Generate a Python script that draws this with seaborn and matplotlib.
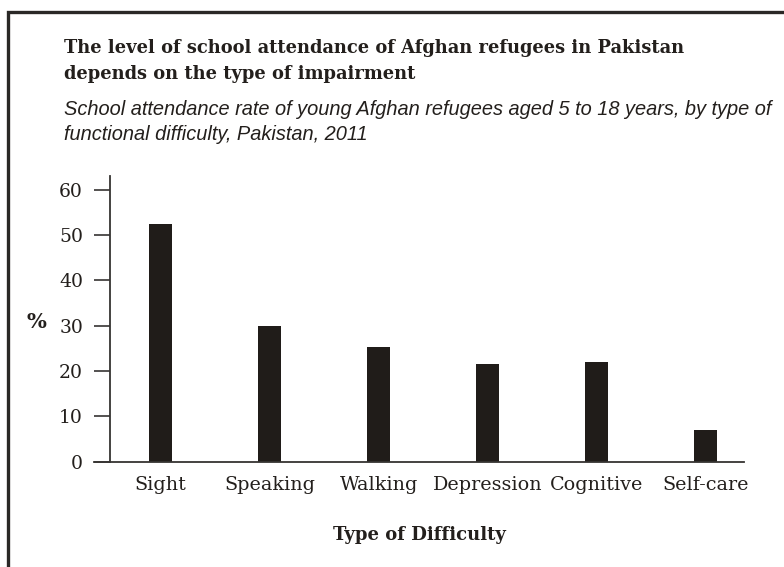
import pandas as pd
import matplotlib.pyplot as plt
import seaborn as sns
from matplotlib.patches import Rectangle

# data
difficulty = ["Sight", "Speaking", "Walking", "Depression", "Cognitive", "Self-care"]
attendance = [52.5, 30.0, 25.2, 21.6, 22.0, 7.0]
y_ticks = [0, 10, 20, 30, 40, 50, 60]

df = pd.DataFrame({"difficulty": difficulty, "attendance": attendance})

sns.set_theme(style="white")
plt.rcParams["font.family"] = ["DejaVu Serif", "Liberation Serif"]

ink = "#201c19"
axis_col = "#363432"
txt = "#231f1c"

fig = plt.figure(figsize=(7.84, 5.67), dpi=100)
ax = fig.add_axes([0.12, 0.1857, 0.829, 0.504])

sns.barplot(data=df, x="difficulty", y="attendance", color=ink, width=0.21,
            saturation=1, linewidth=0, ax=ax)

ax.set_xlim(-0.61, 5.35)
ax.set_ylim(0, 63)
ax.set_yticks(y_ticks)

# axis styling
for side in ["top", "right"]:
    ax.spines[side].set_visible(False)
ax.spines["left"].set_position(("data", -0.463))
for side in ["left", "bottom"]:
    ax.spines[side].set_color(axis_col)
    ax.spines[side].set_linewidth(1.3)

ax.tick_params(axis="y", direction="out", length=11.5, width=1.2, color=axis_col,
               pad=8, labelsize=13.5, labelcolor=txt, left=True)
ax.tick_params(axis="x", length=0, pad=10, labelsize=13.8, labelcolor=txt)

ax.set_xlabel("Type of Difficulty", fontsize=13, fontweight="bold", labelpad=23,
              color=txt)
ax.set_ylabel("")
fig.text(0.046, 0.432, "%", fontsize=15, fontweight="bold", color=txt,
         ha="center", va="center")

# title block, one text per line
title_lines = ["The level of school attendance of Afghan refugees in Pakistan",
               "depends on the type of impairment"]
for line, base in zip(title_lines, [53, 79]):
    fig.text(0.0816, 1 - base / 567, line, fontsize=12.9, fontweight="bold",
             color=txt, ha="left", va="baseline")

subtitle_lines = ["School attendance rate of young Afghan refugees aged 5 to 18 years, by type of",
                  "functional difficulty, Pakistan, 2011"]
for line, base in zip(subtitle_lines, [115, 140]):
    fig.text(0.0816, 1 - base / 567, line, fontsize=14.4, fontstyle="italic",
             family=["Liberation Sans", "DejaVu Sans"], color=txt,
             ha="left", va="baseline")

# frame round the figure
fig.patches.append(Rectangle((0.0108, -0.2), 1.2, 1.2 - 0.021, transform=fig.transFigure,
                             fill=False, edgecolor="#2a2826", linewidth=2.4,
                             clip_on=False))

fig.savefig("out.png", dpi=100)
